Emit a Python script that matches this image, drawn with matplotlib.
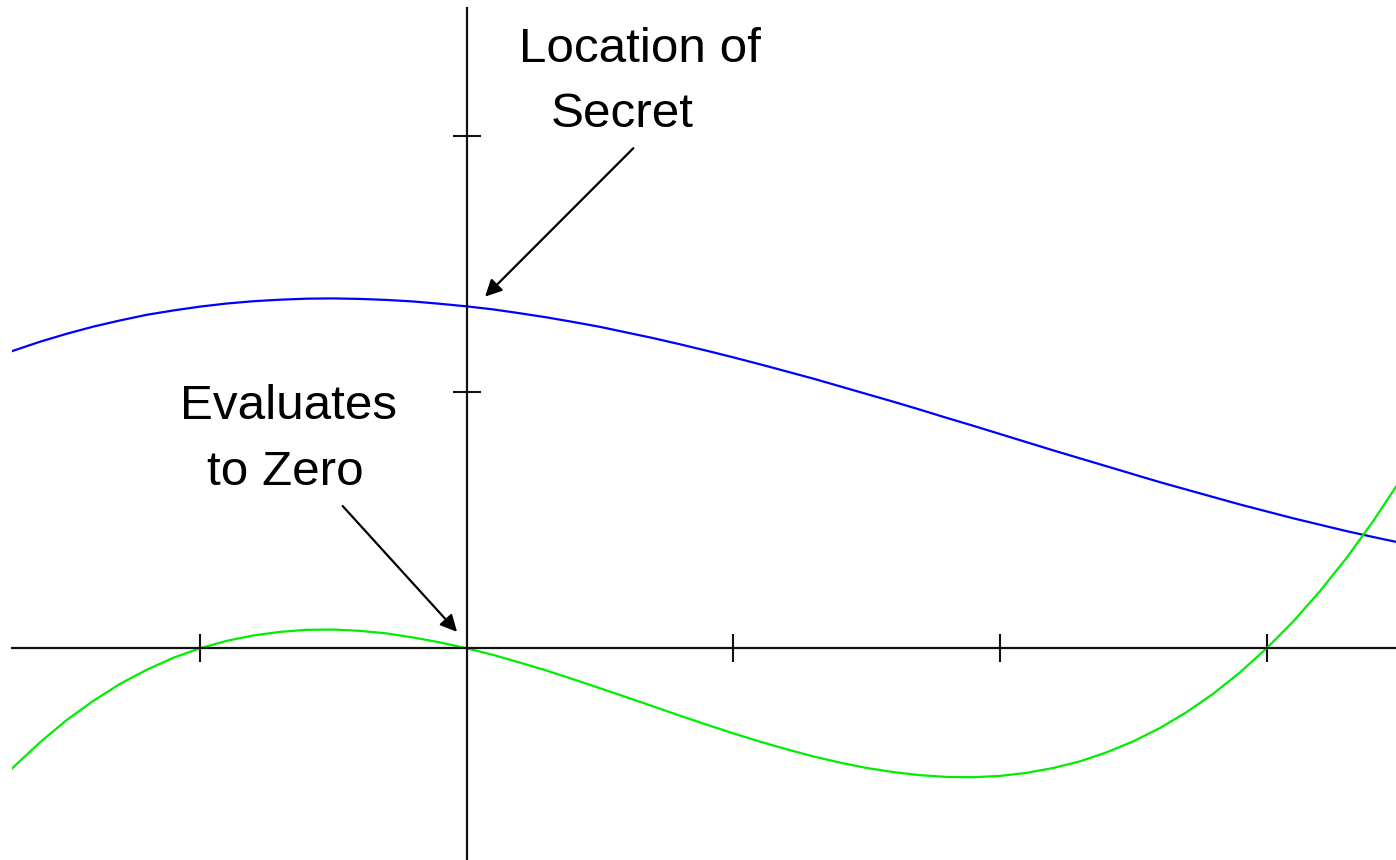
import matplotlib.pyplot as plt

# sample points
x_vals = [-1.8, -1.7, -1.6, -1.5, -1.4, -1.3, -1.2, -1.1, -1.0, -0.9,
          -0.8, -0.7, -0.6, -0.5, -0.4, -0.3, -0.2, -0.1, 0.0, 0.1,
          0.2, 0.3, 0.4, 0.5, 0.6, 0.7, 0.8, 0.9, 1.0, 1.1,
          1.2, 1.3, 1.4, 1.5, 1.6, 1.7, 1.8, 1.9, 2.0, 2.1,
          2.2, 2.3, 2.4, 2.5, 2.6, 2.7, 2.8, 2.9, 3.0, 3.1,
          3.2, 3.3, 3.4, 3.5]

# blue curve (the secret polynomial)
blue_vals = [1.123, 1.161, 1.196, 1.227, 1.255, 1.279, 1.301, 1.318, 1.333, 1.345,
             1.354, 1.360, 1.364, 1.365, 1.363, 1.359, 1.353, 1.344, 1.334, 1.322,
             1.307, 1.291, 1.273, 1.254, 1.232, 1.210, 1.186, 1.161, 1.135, 1.108,
             1.080, 1.052, 1.022, 0.992, 0.962, 0.931, 0.899, 0.868, 0.836, 0.804,
             0.772, 0.741, 0.710, 0.679, 0.648, 0.619, 0.590, 0.561, 0.534, 0.507,
             0.482, 0.457, 0.434, 0.412]

# green curve (zeros at -1, 0 and 3)
green_vals = [-0.574, -0.464, -0.367, -0.280, -0.205, -0.139, -0.084, -0.037, 0.0, 0.029,
              0.050, 0.064, 0.072, 0.073, 0.068, 0.058, 0.042, 0.023, 0.0, -0.026,
              -0.056, -0.087, -0.121, -0.156, -0.191, -0.227, -0.263, -0.298, -0.332, -0.364,
              -0.394, -0.422, -0.446, -0.467, -0.483, -0.495, -0.502, -0.503, -0.498, -0.486,
              -0.467, -0.441, -0.406, -0.363, -0.311, -0.249, -0.177, -0.094, 0.0, 0.105,
              0.223, 0.353, 0.497, 0.654]

x_ticks = [-1, 1, 2, 3]
y_ticks = [1, 2]

W, H = 1396, 860
fig = plt.figure(figsize=(W / 100, H / 100), dpi=100)
ax = fig.add_axes([12 / W, 0, 1384 / W, 852 / H])
ax.set_xlim(-1.705, 3.485)
ax.set_ylim(-0.826, 2.498)

ax.plot(x_vals, blue_vals, color='#0000ff', lw=1.6, solid_joinstyle='round')
ax.plot(x_vals, green_vals, color='#00ee00', lw=1.6, solid_joinstyle='round')

# axes through the origin
for side in ['top', 'right']:
    ax.spines[side].set_visible(False)
ax.spines['left'].set_position(('data', 0))
ax.spines['bottom'].set_position(('data', 0))
for side in ['left', 'bottom']:
    ax.spines[side].set_linewidth(1.6)
    ax.spines[side].set_color('#111111')
ax.set_xticks(x_ticks)
ax.set_yticks(y_ticks)
ax.tick_params(direction='inout', length=19.5, width=1.5, color='#111111',
               labelbottom=False, labelleft=False)

# labels
font = dict(family=['Liberation Sans', 'DejaVu Sans'], fontsize=35.6, color='black',
            ha='center', va='baseline')
fig.text(640 / W, 1 - 61.7 / H, 'Location of', **font)
fig.text(622 / W, 1 - 126.7 / H, 'Secret', **font)
fig.text(289 / W, 1 - 419.3 / H, 'Evaluates', **font)
fig.text(285 / W, 1 - 485 / H, 'to Zero', **font)

arrow = dict(arrowstyle='-|>', color='black', lw=1.6, mutation_scale=25,
             shrinkA=0, shrinkB=0)
ax.annotate('', xy=(0.069, 1.372), xytext=(0.625, 1.951), arrowprops=arrow)
ax.annotate('', xy=(-0.036, 0.064), xytext=(-0.465, 0.555), arrowprops=arrow)

fig.savefig('out.png', dpi=100, facecolor='white')
